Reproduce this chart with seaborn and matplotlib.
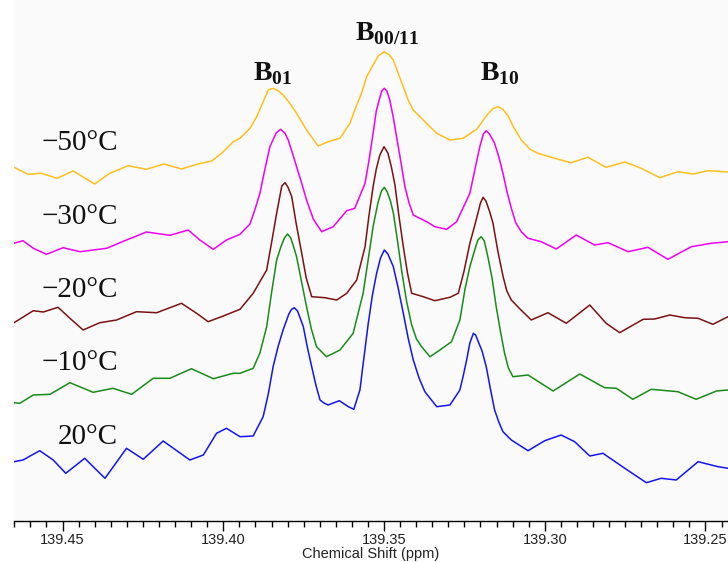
import matplotlib
matplotlib.use("Agg")
import matplotlib.pyplot as plt
import numpy as np
import pandas as pd
import seaborn as sns
from matplotlib.ticker import MultipleLocator, FormatStrFormatter

# ---------------- data ----------------
temps = ["\u221250\u00b0C", "\u221230\u00b0C", "\u221220\u00b0C", "\u221210\u00b0C", "20\u00b0C"]

ppm_m50 = [139.4651, 139.4607, 139.4565, 139.4517, 139.4467, 139.4400, 139.4353, 139.4296, 139.4239,
           139.4185, 139.4130, 139.4078, 139.4036, 139.4005, 139.3969, 139.3948, 139.3917, 139.3896,
           139.3876, 139.3860, 139.3845, 139.3829, 139.3814, 139.3793, 139.3772, 139.3741, 139.3705,
           139.3674, 139.3637, 139.3606, 139.3591, 139.3570, 139.3554, 139.3534, 139.3518, 139.3499,
           139.3485, 139.3471, 139.3456, 139.3440, 139.3425, 139.3409, 139.3373, 139.3336, 139.3295,
           139.3254, 139.3212, 139.3177, 139.3161, 139.3146, 139.3130, 139.3114, 139.3099, 139.3073,
           139.3046, 139.3021, 139.2969, 139.2918, 139.2866, 139.2809, 139.2751, 139.2700, 139.2642,
           139.2586, 139.2539, 139.2492, 139.2430]
int_m50 = [353.7, 346.7, 347.7, 342.7, 350.0, 337.0, 347.7, 355.3, 351.7,
           357.0, 352.0, 357.0, 360.0, 367.7, 379.3, 382.7, 392.7, 404.3,
           419.3, 431.0, 432.7, 430.3, 426.0, 417.7, 407.7, 391.0, 375.0,
           379.3, 382.7, 397.7, 411.0, 427.7, 444.3, 456.0, 465.0, 469.3,
           466.5, 461.0, 447.7, 434.3, 421.0, 411.0, 399.3, 387.7, 381.0,
           382.7, 391.7, 407.0, 412.3, 414.3, 411.7, 405.0, 395.0, 381.0,
           371.7, 367.7, 362.7, 358.3, 363.7, 353.7, 359.0, 352.7, 343.3,
           349.3, 347.0, 350.3, 349.0]

ppm_m30 = [139.4651, 139.4623, 139.4591, 139.4550, 139.4498, 139.4446, 139.4363, 139.4301, 139.4239,
           139.4166, 139.4109, 139.4073, 139.4031, 139.3990, 139.3948, 139.3917, 139.3902, 139.3886,
           139.3871, 139.3855, 139.3836, 139.3822, 139.3808, 139.3798, 139.3783, 139.3772, 139.3756,
           139.3741, 139.3720, 139.3694, 139.3658, 139.3616, 139.3591, 139.3559, 139.3547, 139.3534,
           139.3524, 139.3515, 139.3507, 139.3499, 139.3491, 139.3482, 139.3472, 139.3461, 139.3447,
           139.3435, 139.3422, 139.3409, 139.3367, 139.3342, 139.3305, 139.3274, 139.3233, 139.3217,
           139.3202, 139.3191, 139.3182, 139.3172, 139.3156, 139.3142, 139.3130, 139.3118, 139.3104,
           139.3090, 139.3073, 139.3052, 139.3011, 139.2964, 139.2902, 139.2845, 139.2803, 139.2741,
           139.2679, 139.2617, 139.2544, 139.2482, 139.2430]
int_m30 = [277.7, 280.3, 272.7, 266.7, 273.3, 269.3, 272.7, 281.0, 289.0,
           285.7, 291.0, 281.0, 271.7, 281.0, 286.7, 297.0, 311.0, 327.7,
           351.0, 374.3, 387.7, 391.7, 387.7, 381.0, 366.0, 354.3, 337.7,
           321.0, 302.0, 289.3, 294.3, 310.3, 312.7, 337.7, 360.0, 387.7,
           410.0, 421.0, 430.0, 432.7, 430.0, 421.0, 405.0, 384.3, 358.0,
           334.3, 318.0, 306.0, 299.3, 294.3, 291.7, 299.3, 327.7, 352.0,
           374.3, 387.0, 390.3, 387.0, 377.7, 363.0, 347.7, 330.0, 312.7,
           298.0, 289.3, 282.7, 279.3, 272.0, 286.0, 276.0, 278.3, 269.3,
           273.7, 261.7, 274.3, 277.7, 279.3]

ppm_m20 = [139.4651, 139.4591, 139.4560, 139.4514, 139.4477, 139.4436, 139.4384, 139.4332, 139.4270,
           139.4207, 139.4130, 139.4083, 139.4047, 139.4000, 139.3948, 139.3907, 139.3865, 139.3850,
           139.3834, 139.3818, 139.3808, 139.3799, 139.3787, 139.3773, 139.3756, 139.3742, 139.3725,
           139.3684, 139.3647, 139.3616, 139.3585, 139.3559, 139.3547, 139.3534, 139.3524, 139.3513,
           139.3500, 139.3488, 139.3477, 139.3466, 139.3454, 139.3440, 139.3427, 139.3414, 139.3378,
           139.3342, 139.3295, 139.3269, 139.3251, 139.3233, 139.3220, 139.3207, 139.3200, 139.3192,
           139.3183, 139.3172, 139.3161, 139.3146, 139.3130, 139.3118, 139.3104, 139.3077, 139.3042,
           139.2990, 139.2933, 139.2860, 139.2809, 139.2767, 139.2694, 139.2658, 139.2611, 139.2565,
           139.2523, 139.2477, 139.2430]
int_m20 = [198.3, 210.3, 209.0, 213.7, 202.7, 191.0, 198.3, 201.0, 209.3,
           208.3, 217.7, 207.7, 199.3, 205.0, 211.7, 227.7, 251.0, 278.0,
           307.7, 335.0, 338.3, 334.0, 324.3, 297.0, 267.7, 243.0, 224.3,
           223.3, 221.0, 227.7, 241.0, 274.3, 305.0, 334.3, 352.0, 366.0,
           374.3, 368.0, 354.0, 336.0, 306.0, 274.3, 248.0, 227.7, 224.3,
           220.3, 223.7, 227.7, 250.0, 277.7, 293.0, 309.0, 318.0, 323.7,
           320.0, 310.0, 297.7, 270.0, 245.0, 230.0, 221.0, 212.0, 201.0,
           208.3, 197.7, 216.0, 197.7, 188.3, 201.7, 202.0, 206.0, 203.3,
           202.7, 196.7, 204.3]

ppm_m10 = [139.4651, 139.4633, 139.4591, 139.4539, 139.4477, 139.4405, 139.4343, 139.4285, 139.4218,
           139.4166, 139.4099, 139.4031, 139.3969, 139.3948, 139.3907, 139.3886, 139.3865, 139.3850,
           139.3834, 139.3821, 139.3810, 139.3800, 139.3790, 139.3780, 139.3772, 139.3757, 139.3741,
           139.3726, 139.3710, 139.3679, 139.3637, 139.3596, 139.3565, 139.3549, 139.3534, 139.3519,
           139.3508, 139.3499, 139.3490, 139.3480, 139.3471, 139.3458, 139.3445, 139.3430, 139.3414,
           139.3399, 139.3383, 139.3357, 139.3326, 139.3290, 139.3264, 139.3248, 139.3233, 139.3217,
           139.3208, 139.3198, 139.3188, 139.3177, 139.3164, 139.3151, 139.3138, 139.3125, 139.3113,
           139.3099, 139.3052, 139.2974, 139.2891, 139.2814, 139.2777, 139.2726, 139.2669, 139.2586,
           139.2529, 139.2466, 139.2430]
int_m10 = [118.3, 117.7, 126.0, 126.7, 138.3, 128.7, 132.7, 126.7, 142.7,
           142.7, 152.3, 142.3, 147.7, 147.7, 152.7, 168.0, 194.3, 228.0,
           261.0, 274.0, 283.0, 287.0, 283.0, 273.0, 264.3, 240.0, 214.3,
           192.0, 174.3, 164.3, 171.0, 187.7, 227.7, 262.0, 294.3, 318.0,
           330.0, 333.7, 329.0, 320.0, 308.0, 280.0, 250.0, 220.0, 196.0,
           182.0, 174.3, 164.3, 171.0, 179.3, 201.0, 232.0, 254.3, 272.0,
           281.0, 284.3, 280.0, 264.3, 243.0, 214.3, 190.0, 167.7, 153.0,
           144.3, 146.0, 130.0, 147.0, 133.3, 132.7, 121.7, 131.7, 129.3,
           121.7, 130.0, 131.0]

ppm_p20 = [139.4651, 139.4623, 139.4571, 139.4529, 139.4490, 139.4431, 139.4368, 139.4301, 139.4249,
           139.4187, 139.4104, 139.4062, 139.4021, 139.3990, 139.3948, 139.3907, 139.3876, 139.3860,
           139.3845, 139.3829, 139.3814, 139.3796, 139.3788, 139.3779, 139.3769, 139.3751, 139.3738,
           139.3725, 139.3712, 139.3699, 139.3687, 139.3674, 139.3639, 139.3611, 139.3594, 139.3575,
           139.3563, 139.3549, 139.3536, 139.3523, 139.3511, 139.3499, 139.3488, 139.3471, 139.3456,
           139.3440, 139.3425, 139.3409, 139.3391, 139.3373, 139.3336, 139.3295, 139.3264, 139.3253,
           139.3243, 139.3233, 139.3222, 139.3215, 139.3208, 139.3195, 139.3182, 139.3169, 139.3156,
           139.3143, 139.3130, 139.3104, 139.3052, 139.3000, 139.2949, 139.2907, 139.2860, 139.2819,
           139.2751, 139.2684, 139.2638, 139.2591, 139.2523, 139.2461, 139.2430]
int_p20 = [59.3, 61.0, 70.3, 61.0, 47.7, 62.7, 42.7, 72.7, 61.7,
           80.0, 61.0, 66.0, 87.7, 92.7, 84.3, 85.0, 104.3, 127.0,
           154.3, 175.0, 191.0, 207.0, 211.5, 213.3, 210.0, 194.3, 173.0,
           154.3, 136.0, 121.0, 118.0, 116.0, 120.3, 114.3, 111.7, 131.0,
           162.0, 197.7, 226.0, 247.7, 263.0, 271.0, 267.0, 254.3, 233.0,
           207.7, 183.0, 161.0, 143.0, 129.3, 114.3, 116.0, 131.0, 146.0,
           161.0, 178.0, 187.7, 186.0, 180.3, 170.0, 154.3, 132.0, 111.0,
           99.0, 89.3, 81.0, 70.3, 80.3, 86.0, 79.3, 65.0, 67.7,
           52.7, 38.3, 42.7, 41.0, 59.3, 54.3, 52.7]

peak_names = ["01", "00/11", "10"]
xticks_major = [139.45, 139.40, 139.35, 139.30, 139.25]

# ---------------- styling / layout ----------------
colors = ["#FFBF1F", "#F000F0", "#7A1212", "#1A8A1A", "#1414F0"]
label_pos = [(139.4327, 378), (139.4327, 304), (139.4327, 231), (139.4327, 158), (139.4327, 84)]
peak_pos = [(139.3909, 441), (139.3591, 481), (139.3202, 441)]

frames = []
for t, xs, ys in zip(temps,
                     [ppm_m50, ppm_m30, ppm_m20, ppm_m10, ppm_p20],
                     [int_m50, int_m30, int_m20, int_m10, int_p20]):
    frames.append(pd.DataFrame({"ppm": xs, "intensity": ys, "temp": t}))
df = pd.concat(frames, ignore_index=True)

plt.rcParams["mathtext.fontset"] = "custom"
plt.rcParams["mathtext.rm"] = "Liberation Serif"
plt.rcParams["mathtext.bf"] = "Liberation Serif:bold"

fig = plt.figure(figsize=(7.28, 5.62), dpi=100, facecolor="white")
ax = fig.add_axes([14 / 728, 1 - 521 / 562, 1 - 14 / 728, 521 / 562])
ax.set_facecolor("#fafafa")

sns.lineplot(data=df, x="ppm", y="intensity", hue="temp", palette=dict(zip(temps, colors)),
             estimator=None, sort=True, legend=False, linewidth=1.1, ax=ax)
for ln in ax.get_lines():
    ln.set_solid_joinstyle("round")
    ln.set_solid_capstyle("round")

ax.set_xlim(139.4651, 139.2430)
ax.set_ylim(0, 521)
ax.set_yticks([])
ax.set_ylabel("")
for s in ["left", "top", "right"]:
    ax.spines[s].set_visible(False)
ax.spines["bottom"].set_color("black")
ax.spines["bottom"].set_linewidth(1.0)

ax.set_xticks(xticks_major)
ax.xaxis.set_major_formatter(FormatStrFormatter("%.2f"))
ax.xaxis.set_minor_locator(MultipleLocator(0.005))
ax.tick_params(axis="x", which="major", length=7.5, width=1.0, direction="out",
               labelsize=10.5, labelcolor="#222222", pad=1, color="black")
ax.tick_params(axis="x", which="minor", length=4, width=1.0, direction="out", color="black")
for lab in ax.get_xticklabels():
    lab.set_fontfamily("Liberation Sans")
ax.set_xlabel("Chemical Shift (ppm)", fontsize=10.5, family="Liberation Sans",
              color="#222222", labelpad=0)

for t, (lx, ly) in zip(temps, label_pos):
    ax.text(lx, ly, t, ha="right", va="center", fontsize=21,
            family="Liberation Serif", color="#111111")

for name, (px, py) in zip(peak_names, peak_pos):
    ax.text(px, py, r"$\mathbf{B}_{\mathbf{" + name + "}}$", ha="left", va="baseline",
            fontsize=20, color="#111111")

fig.savefig("out.png", dpi=100, facecolor="white")
